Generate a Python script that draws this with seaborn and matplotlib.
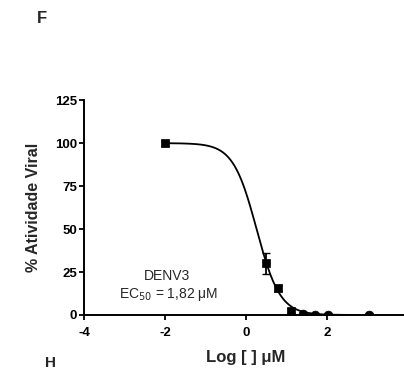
import numpy as np
import pandas as pd
import matplotlib
matplotlib.use("Agg")
import matplotlib.pyplot as plt
import seaborn as sns

# Data
log_conc_sq = [-2.0, 0.49, 0.79, 1.11]
activity_sq = [100.0, 30.0, 15.7, 2.3]
err_sq = [1.5, 6.0, 1.5, 1.0]
log_conc_ci = [1.41, 1.70, 2.02, 3.04]
activity_ci = [0.3, 0.2, 0.2, 0.0]

ec50 = 1.82          # µM, as labelled
hill = 1.5
top, bottom = 100.0, 0.0

xticks = [-4, -2, 0, 2]
yticks = [0, 25, 50, 75, 100, 125]

sns.set_theme(style="ticks")
plt.rcParams['font.family'] = ['Liberation Sans', 'DejaVu Sans']

fig = plt.figure(figsize=(4.04, 3.71), dpi=100)
ax = fig.add_axes([0.208, 0.151, 0.802, 0.579])

# fitted dose-response curve (4PL with the labelled EC50)
xs = np.linspace(-2, 3.04, 300)
ys = bottom + (top - bottom) / (1 + 10 ** ((xs - np.log10(ec50)) * hill))
sns.lineplot(x=xs, y=ys, ax=ax, color="black", lw=1.3)

df_sq = pd.DataFrame({"x": log_conc_sq, "y": activity_sq})
df_ci = pd.DataFrame({"x": log_conc_ci, "y": activity_ci})
ax.errorbar(log_conc_sq, activity_sq, yerr=err_sq, fmt="none", ecolor="black",
            elinewidth=1.3, capsize=3, zorder=3)
sns.scatterplot(data=df_sq, x="x", y="y", ax=ax, marker="s", s=40, color="black",
                edgecolor="black", zorder=4)
sns.scatterplot(data=df_ci, x="x", y="y", ax=ax, marker="o", s=40, color="black",
                edgecolor="black", zorder=4)

ax.set_xlim(-4, 4)
ax.set_ylim(0, 125)
ax.set_xticks(xticks)
ax.set_yticks(yticks)
ax.set_xticklabels([str(t) for t in xticks], fontsize=9.5, fontweight="bold")
ax.set_yticklabels([str(t) for t in yticks], fontsize=9.5, fontweight="bold")
ax.tick_params(axis="both", length=3.5, width=1.3, pad=1.5, colors="black")
ax.tick_params(axis="x", pad=5)
for s in ["left", "bottom"]:
    ax.spines[s].set_linewidth(1.4)
    ax.spines[s].set_color("black")
sns.despine(ax=ax)
ax.set_xlabel("Log [ ] μM", fontsize=12, fontweight="bold", labelpad=8)
ax.set_ylabel("% Atividade Viral", fontsize=11.5, fontweight="bold", labelpad=10)

ax.text(-1.95, 22.7, "DENV3", fontsize=10, ha="center", va="center")
ax.text(-1.9, 12.0, "EC$_{50}$ = 1,82 μM", fontsize=10, ha="center", va="center")

fig.text(0.104, 0.951, "F", fontsize=12, fontweight="bold", ha="center", va="center")
fig.text(0.124, 0.002, "H", fontsize=11, fontweight="bold", ha="center", va="bottom")

fig.savefig("out.png", dpi=100)
